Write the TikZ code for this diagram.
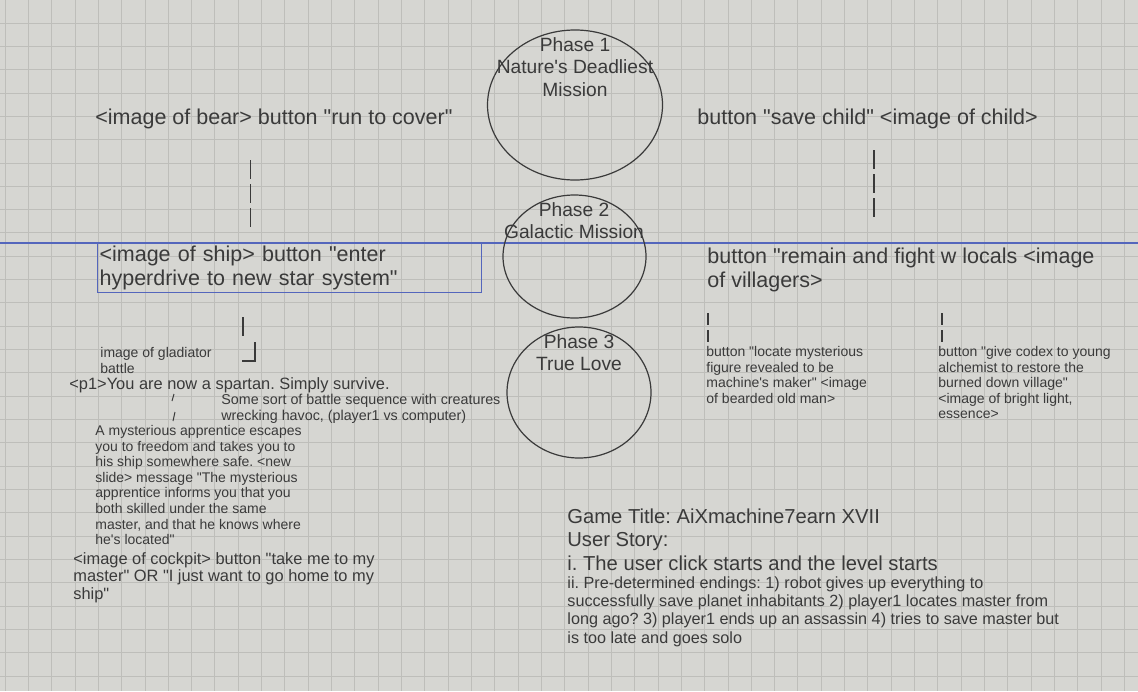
\documentclass[tikz,border=0pt]{standalone}
\usepackage{fontspec}
\setmainfont{Liberation Sans}[Ligatures=TeXOff]
\usetikzlibrary{shapes.geometric}
\definecolor{paper}{RGB}{214,214,210}
\definecolor{gridgray}{RGB}{190,190,186}
\definecolor{ink}{RGB}{58,58,58}
\definecolor{sheetblue}{RGB}{84,102,188}
\frenchspacing
\begin{document}
\begin{tikzpicture}[x=0.5pt, y=-0.5pt,
    note/.style={inner sep=0pt, text=ink, align=left},
    bignote/.style={note, font=\fontsize{10.75}{12}\selectfont},
    midnote/.style={note, font=\fontsize{8.2}{8.75}\selectfont},
    smallnote/.style={note, font=\fontsize{7}{7.8}\selectfont},
    titlenote/.style={note, font=\fontsize{10.1}{11.75}\selectfont},
    phase/.style={ellipse, draw=ink, line width=0.6pt, inner sep=0pt},
    phasetext/.style={inner sep=0pt, text=ink, align=center, font=\fontsize{9.6}{11.25}\selectfont},
    barmark/.style={ink, line width=0.7pt},
    gridline/.style={gridgray, line width=0.4pt}]
  \useasboundingbox (0,0) rectangle (1138,691);
  \fill[paper] (0,0) rectangle (1138,691);
  \foreach \gx in {5,28.32,...,1138} \draw[gridline] (\gx,0) -- (\gx,691);
  \foreach \gy in {23,46.32,...,691} \draw[gridline] (0,\gy) -- (1138,\gy);
  \draw[sheetblue, line width=0.6pt] (0,243) -- (1138,243);

  % phases
  \node[phase, minimum width=87.5pt, minimum height=75pt] (phase1) at (575,105) {};
  \node[phase, minimum width=71.5pt, minimum height=61.5pt] (phase2) at (574.5,256.5) {};
  \node[phase, minimum width=72pt, minimum height=65.5pt] (phase3) at (579,392.5) {};
  \node[phasetext, anchor=north] (phase1t) at (575,37) {Phase 1\\Nature's Deadliest\\Mission};
  \node[phasetext, anchor=north] (phase2t) at (574,202) {Phase 2\\Galactic Mission};
  \node[phasetext, anchor=north] (phase3t) at (579,334) {Phase 3\\True Love};

  % left branch
  \node[bignote, anchor=west] (bear) at (95,119) {<image of bear> button "run to cover"};
  \node[bignote, anchor=north west, draw=sheetblue, line width=0.6pt, inner sep=1pt,
        text width=190pt, minimum height=24.5pt] (ship) at (97,243)
        {<image of ship> button "enter\\hyperdrive to new star system"};
  \node[smallnote, anchor=north west] (gladiator) at (100,347) {image of gladiator\\battle};
  \node[midnote, anchor=west] (spartan) at (69,385) {<p1>You are now a spartan. Simply survive.};
  \node[smallnote, anchor=north west, font=\fontsize{7.15}{8}\selectfont] (battle) at (221,394)
        {Some sort of battle sequence with creatures\\wrecking havoc, (player1 vs computer)};
  \node[smallnote, anchor=north west] (apprentice) at (95,425)
        {A mysterious apprentice escapes\\you to freedom and takes you to\\his ship somewhere safe. <new\\slide> message "The mysterious\\apprentice informs you that you\\both skilled under the same\\master, and that he knows where\\he's located"};
  \node[midnote, anchor=north west] (cockpit) at (73,552)
        {<image of cockpit> button "take me to my\\master" OR "I just want to go home to my\\ship"};

  % right branch
  \node[bignote, anchor=west] (child) at (697,119) {button "save child" <image of child>};
  \node[bignote, anchor=north west] (locals) at (707,248)
        {button "remain and fight w locals <image\\of villagers>};
  \node[smallnote, anchor=north west] (maker) at (706,346)
        {button "locate mysterious\\figure revealed to be\\machine's maker" <image\\of bearded old man>};
  \node[smallnote, anchor=north west] (codex) at (938,346)
        {button "give codex to young\\alchemist to restore the\\burned down village"\\<image of bright light,\\essence>};

  % story
  \node[titlenote, anchor=north west] (title) at (567,508)
        {Game Title: AiXmachine7earn XVII\\User Story:\\i. The user click starts and the level starts};
  \node[note, anchor=north west, font=\fontsize{8.1}{9.15}\selectfont] (endings) at (567,576)
        {ii. Pre-determined endings: 1) robot gives up everything to\\successfully save planet inhabitants 2) player1 locates master from\\long ago? 3) player1 ends up an assassin 4) tries to save master but\\is too late and goes solo};

  % bar marks
  \coordinate (bearbar) at (250.5,160);
  \coordinate (shipbar) at (250.5,227);
  \coordinate (childbar) at (874,150);
  \coordinate (localsbar) at (874,217);
  \draw[barmark, dash pattern=on 9.5pt off 2.5pt] (bearbar) -- (shipbar);
  \draw[barmark, dash pattern=on 9.5pt off 2.5pt] (childbar) -- (localsbar);
  \coordinate (shipdown) at (243,317);
  \coordinate (shipend) at (243,336);
  \coordinate (hooktop) at (255,342);
  \coordinate (hookcorner) at (255,361);
  \coordinate (hookleft) at (242,361);
  \draw[barmark] (shipdown) -- (shipend);
  \draw[barmark] (hooktop) -- (hookcorner) -- (hookleft);
  \coordinate (slashA) at (174,394);
  \coordinate (slashB) at (172,401);
  \coordinate (slashC) at (175,412);
  \coordinate (slashD) at (173,421);
  \draw[barmark, line width=0.5pt] (slashA) -- (slashB);
  \draw[barmark, line width=0.5pt] (slashC) -- (slashD);
  \coordinate (makerbar) at (708,313);
  \coordinate (makerend) at (708,343);
  \coordinate (codexbar) at (942,313);
  \coordinate (codexend) at (942,343);
  \draw[barmark, dash pattern=on 6pt off 2.5pt] (makerbar) -- (makerend);
  \draw[barmark, dash pattern=on 6pt off 2.5pt] (codexbar) -- (codexend);
\end{tikzpicture}
\end{document}
